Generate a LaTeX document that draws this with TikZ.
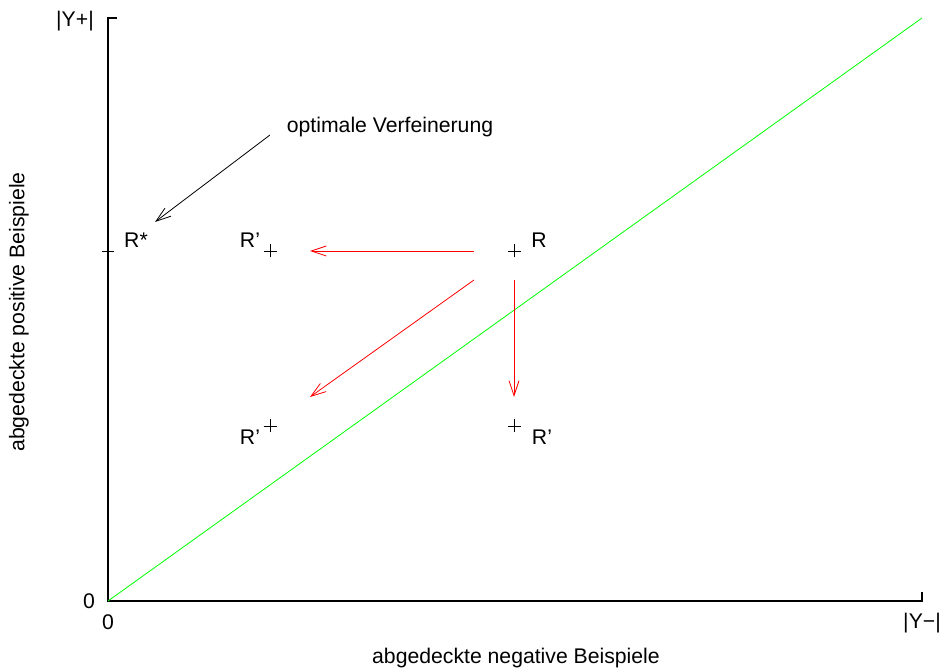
\documentclass[tikz,border=0pt]{standalone}
\usepackage{fontspec}
\setmainfont{Liberation Sans}
\usetikzlibrary{arrows.meta,calc}

\begin{document}
\begin{tikzpicture}[
    x=1pt, y=1pt,
    font=\fontsize{21.2}{25}\selectfont,
    lbl/.style={inner sep=0pt, anchor=center},
    axis/.style={line width=1.3pt, black},
    pmark/.style={line width=0.8pt, black},
    arr/.style={-{Straight Barb[length=15pt,width=10pt]}, line width=0.8pt, red},
    hint/.style={-{Straight Barb[length=15pt,width=10pt]}, line width=0.8pt, black},
  ]
  \useasboundingbox (0,0) rectangle (943,668);
  % axes
  \coordinate (o) at (108,67);
  \coordinate (ytop) at (108,650);
  \coordinate (xend) at (922,67);
  \draw[axis] ($(ytop)+(9,0)$) -- (ytop) -- (o) -- (xend) -- ($(xend)+(0,9)$);
  \draw[green, line width=0.8pt] (o) -- (922,650);
  \node[lbl] (yp) at (75,647) {|Y+|};
  \node[lbl] (y0) at (89,67) {0};
  \node[lbl] (x0) at (108,46) {0};
  \node[lbl] (ym) at (922,45) {|Y−|};
  \node[lbl] (xlab) at (516,10) {abgedeckte negative Beispiele};
  \node[lbl, rotate=90] (ylab) at (19,356) {abgedeckte positive Beispiele};
  % rules
  \coordinate (rs) at (108,417);
  \coordinate (r) at (514,417);
  \coordinate (ra) at (270,417);
  \coordinate (rb) at (270,242);
  \coordinate (rc) at (514,242);
  \draw[pmark] ($(rs)+(-6,0)$) -- ($(rs)+(6,0)$);
  \foreach \p in {r, ra, rb, rc}{
    \draw[pmark] ($(\p)+(-6.5,0)$) -- ($(\p)+(6.5,0)$) ($(\p)+(0,-6.5)$) -- ($(\p)+(0,6.5)$);
  }
  \node[lbl] (rstar) at (136,428) {R*};
  \node[lbl] (rl) at (539,428) {R};
  \node[lbl] (ral) at (250,428) {R’};
  \node[lbl] (rbl) at (250,231) {R’};
  \node[lbl] (rcl) at (542,231) {R’};
  \node[lbl] (opt) at (390,541) {optimale Verfeinerung};
  % refinements
  \coordinate (h1) at (474,417);
  \coordinate (h2) at (310,417);
  \coordinate (d1) at (474,388);
  \coordinate (d2) at (310,271);
  \coordinate (v1) at (514,388);
  \coordinate (v2) at (514,271);
  \coordinate (o1) at (270,533);
  \coordinate (o2) at (155,446);
  \draw[arr] (h1) -- (h2);
  \draw[arr] (d1) -- (d2);
  \draw[arr] (v1) -- (v2);
  \draw[hint] (o1) -- (o2);
\end{tikzpicture}
\end{document}
